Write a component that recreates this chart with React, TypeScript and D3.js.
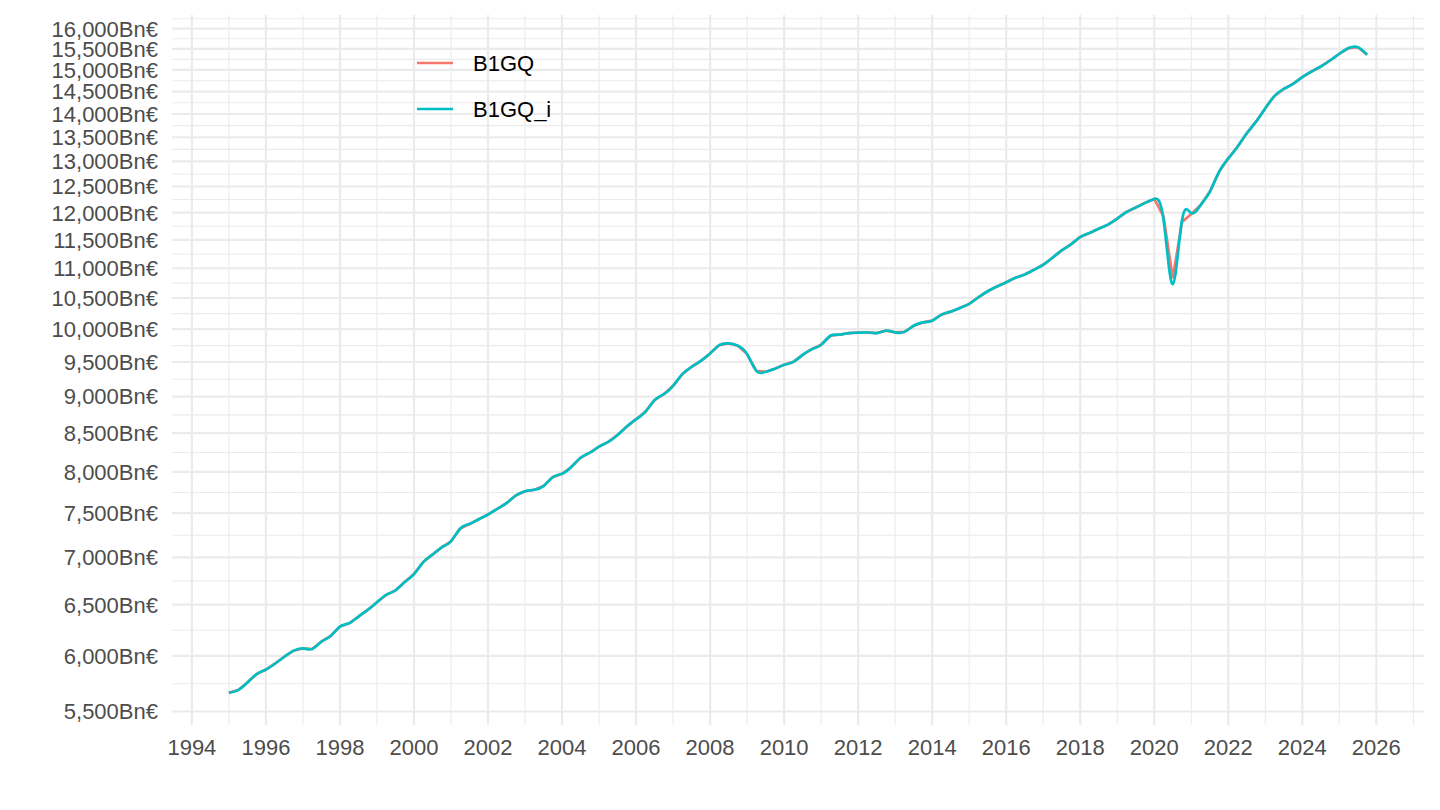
import React from 'react';
import * as d3 from 'd3';

// Quarterly series, first point 1995 Q1
const startYear = 1995;

const b1gq = [
  5664, 5687, 5755, 5831,
  5873, 5929, 5992, 6049,
  6071, 6065, 6135, 6190,
  6281, 6314, 6380, 6447,
  6525, 6601, 6647, 6734,
  6818, 6948, 7029, 7110,
  7177, 7322, 7375, 7429,
  7484, 7551, 7618, 7710,
  7762, 7780, 7824, 7935,
  7976, 8061, 8179, 8244,
  8322, 8384, 8476, 8587,
  8687, 8787, 8950, 9034,
  9152, 9321, 9429, 9518,
  9627, 9755, 9780, 9745,
  9618, 9370, 9355, 9400,
  9458, 9502, 9607, 9693,
  9759, 9898, 9915, 9940,
  9945, 9950, 9940, 9976,
  9950, 9958, 10054, 10107,
  10134, 10230, 10278, 10338,
  10403, 10512, 10611, 10690,
  10762, 10837, 10893, 10973,
  11060, 11181, 11311, 11418,
  11550, 11622, 11702, 11776,
  11888, 12011, 12095, 12183,
  12259, 11930, 10830, 11825,
  11975, 12140, 12396, 12790,
  13061, 13301, 13584, 13833,
  14127, 14403, 14561, 14676,
  14831, 14962, 15080, 15222,
  15383, 15521, 15540, 15360,
];

const b1gqI = [
  5664, 5687, 5755, 5831,
  5873, 5929, 5992, 6049,
  6071, 6065, 6135, 6190,
  6281, 6314, 6380, 6447,
  6525, 6601, 6647, 6734,
  6818, 6948, 7029, 7110,
  7177, 7322, 7375, 7429,
  7484, 7551, 7618, 7710,
  7762, 7780, 7824, 7935,
  7976, 8061, 8179, 8244,
  8322, 8384, 8476, 8587,
  8687, 8787, 8950, 9034,
  9152, 9321, 9429, 9518,
  9627, 9755, 9780, 9745,
  9618, 9370, 9355, 9400,
  9458, 9502, 9607, 9693,
  9759, 9898, 9915, 9940,
  9945, 9950, 9940, 9976,
  9950, 9958, 10054, 10107,
  10134, 10230, 10278, 10338,
  10403, 10512, 10611, 10690,
  10762, 10837, 10893, 10973,
  11060, 11181, 11311, 11418,
  11550, 11622, 11702, 11776,
  11888, 12011, 12095, 12183,
  12259, 11870, 10730, 11860,
  11990, 12140, 12396, 12790,
  13061, 13301, 13584, 13833,
  14127, 14403, 14561, 14676,
  14831, 14962, 15080, 15222,
  15383, 15521, 15540, 15360,
];

const yTicks = [
  5500, 6000, 6500, 7000, 7500, 8000, 8500, 9000, 9500, 10000, 10500,
  11000, 11500, 12000, 12500, 13000, 13500, 14000, 14500, 15000, 15500, 16000,
];
const xTicks = [
  1994, 1996, 1998, 2000, 2002, 2004, 2006, 2008, 2010, 2012, 2014, 2016,
  2018, 2020, 2022, 2024, 2026,
];

const seriesNames = ['B1GQ', 'B1GQ_i'];
const seriesColors = ['#F8766D', '#00BFC4'];

const W = 1440;
const H = 810;
const panel = { left: 172, right: 1424, top: 15, bottom: 725 };
const gridColor = '#EBEBEB';
const font = '"Liberation Sans", Arial, sans-serif';

type Pt = { t: number; v: number };

const toPoints = (vals: number[]): Pt[] => vals.map((v, i) => ({ t: startYear + i / 4, v }));

const App: React.FC = () => {
  const s1 = toPoints(b1gq);
  const s2 = toPoints(b1gqI);
  const all = [...s1, ...s2];

  // ggplot-like 5% expansion on both axes (log space for y)
  const tExt = d3.extent(all, d => d.t) as [number, number];
  const tPad = (tExt[1] - tExt[0]) * 0.05;
  const vExt = d3.extent(all, d => Math.log(d.v)) as [number, number];
  const vPad = (vExt[1] - vExt[0]) * 0.05;

  const x = d3.scaleLinear()
    .domain([tExt[0] - tPad, tExt[1] + tPad])
    .range([panel.left, panel.right]);
  const y = d3.scaleLog()
    .domain([Math.exp(vExt[0] - vPad), Math.exp(vExt[1] + vPad)])
    .range([panel.bottom, panel.top]);

  const [yLo, yHi] = y.domain();

  // minor breaks: midpoints (in log space) between majors, plus one beyond each end
  const ext = [yTicks[0] - 500, ...yTicks, yTicks[yTicks.length - 1] + 500];
  const yMinor = d3.pairs(ext)
    .map(([a, b]) => Math.sqrt(a * b))
    .filter(v => v >= yLo && v <= yHi);
  const xMinor = d3.range(xTicks[0] - 1, xTicks[xTicks.length - 1] + 3, 2)
    .filter(t => x(t) >= panel.left && x(t) <= panel.right);

  const fmt = d3.format(',');

  const linePlain = d3.line<Pt>().x(d => x(d.t)).y(d => y(d.v));
  const lineSmooth = d3.line<Pt>().x(d => x(d.t)).y(d => y(d.v)).curve(d3.curveNatural);

  return (
    <svg width={W} height={H} style={{ position: 'absolute', left: 0, top: 0, background: '#fff' }}>
      {/* grid */}
      <g>
        {yMinor.map(v => (
          <line key={'ym' + v} x1={panel.left} x2={panel.right} y1={y(v)} y2={y(v)}
            stroke={gridColor} strokeWidth={1.1} />
        ))}
        {xMinor.map(t => (
          <line key={'xm' + t} x1={x(t)} x2={x(t)} y1={panel.top} y2={panel.bottom}
            stroke={gridColor} strokeWidth={1.1} />
        ))}
        {yTicks.map(v => (
          <line key={'y' + v} x1={panel.left} x2={panel.right} y1={y(v)} y2={y(v)}
            stroke={gridColor} strokeWidth={2.2} />
        ))}
        {xTicks.map(t => (
          <line key={'x' + t} x1={x(t)} x2={x(t)} y1={panel.top} y2={panel.bottom}
            stroke={gridColor} strokeWidth={2.2} />
        ))}
      </g>

      {/* series */}
      <path d={linePlain(s1) || ''} fill="none" stroke={seriesColors[0]} strokeWidth={2.7} />
      <path d={lineSmooth(s2) || ''} fill="none" stroke={seriesColors[1]} strokeWidth={2.7} />

      {/* y axis labels */}
      <g fontFamily={font} fontSize={22} fill="#4D4D4D">
        {yTicks.map(v => (
          <text key={'yl' + v} x={158} y={y(v)} dy="0.36em" textAnchor="end">
            {fmt(v)}Bn€
          </text>
        ))}
      </g>

      {/* x axis labels */}
      <g fontFamily={font} fontSize={22} fill="#4D4D4D">
        {xTicks.map(t => (
          <text key={'xl' + t} x={x(t)} y={755} textAnchor="middle">{t}</text>
        ))}
      </g>

      {/* legend */}
      <g fontFamily={font} fontSize={22} fill="#000">
        {seriesNames.map((name, i) => (
          <g key={name} transform={`translate(0, ${63 + i * 46})`}>
            <line x1={417} x2={453} y1={0} y2={0} stroke={seriesColors[i]} strokeWidth={2.7} />
            <text x={473} y={0} dy="0.36em">{name}</text>
          </g>
        ))}
      </g>
    </svg>
  );
};

export default App;
